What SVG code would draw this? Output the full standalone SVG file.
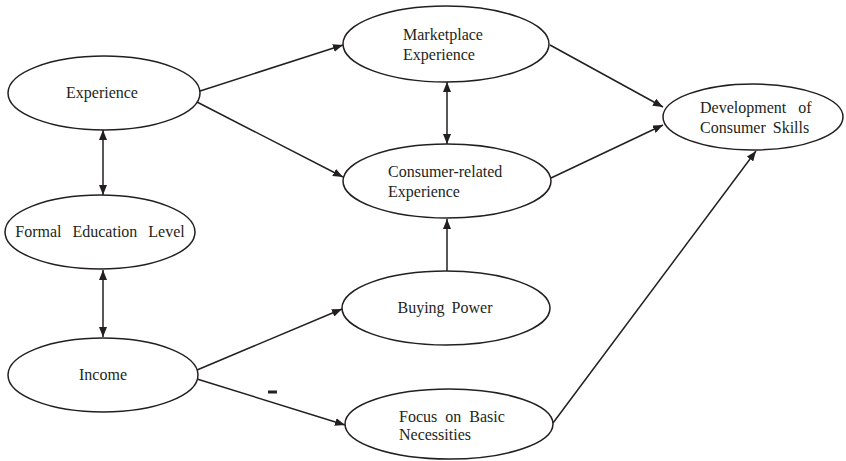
<svg xmlns="http://www.w3.org/2000/svg" width="846" height="461" viewBox="0 0 846 461">
  <style>
    .node ellipse { fill: #fff; stroke: #231f20; stroke-width: 1.5; }
    .node text { font-family: "Liberation Serif", "Times New Roman", serif; font-size: 16px; fill: #231f20; }
    .mid { text-anchor: middle; }
    #links line { stroke: #231f20; stroke-width: 1.5; fill: none; }
  </style>
  <defs>
    <marker id="head" viewBox="0 0 10 8" refX="10" refY="4" markerWidth="10" markerHeight="8" markerUnits="userSpaceOnUse" orient="auto-start-reverse">
      <path d="M0,0 L10,4 L0,8 Z" fill="#231f20"/>
    </marker>
  </defs>
  <rect width="846" height="461" fill="#fff"/>

  <g id="links">
    <line x1="197" y1="92" x2="343" y2="45" marker-end="url(#head)"/>
    <line x1="197" y1="102" x2="343" y2="177" marker-end="url(#head)"/>
    <line x1="550" y1="45" x2="663" y2="107" marker-end="url(#head)"/>
    <line x1="551" y1="178" x2="663" y2="125" marker-end="url(#head)"/>
    <line x1="553" y1="423" x2="756" y2="151" marker-end="url(#head)"/>
    <line x1="197" y1="370" x2="342" y2="309" marker-end="url(#head)"/>
    <line x1="197" y1="379" x2="345" y2="425" marker-end="url(#head)"/>
    <line x1="447" y1="271" x2="447" y2="219" marker-end="url(#head)"/>
    <line x1="447" y1="82" x2="447" y2="144" marker-start="url(#head)" marker-end="url(#head)"/>
    <line x1="103" y1="130" x2="103" y2="195" marker-start="url(#head)" marker-end="url(#head)"/>
    <line x1="103" y1="270" x2="103" y2="337" marker-start="url(#head)" marker-end="url(#head)"/>
    <line x1="268" y1="392" x2="277" y2="392" style="stroke-width:3"/>
  </g>

  <g id="experience" class="node">
    <ellipse cx="104" cy="93" rx="96" ry="37"/>
    <text class="mid" x="102" y="98">Experience</text>
  </g>
  <g id="formal-education" class="node">
    <ellipse cx="100" cy="232" rx="95" ry="37"/>
    <text class="mid" x="100" y="237" word-spacing="7">Formal Education Level</text>
  </g>
  <g id="income" class="node">
    <ellipse cx="103" cy="375" rx="95" ry="37"/>
    <text class="mid" x="103" y="380">Income</text>
  </g>
  <g id="marketplace" class="node">
    <ellipse cx="446" cy="44" rx="103" ry="38"/>
    <text x="403" y="40">Marketplace</text>
    <text x="403" y="60">Experience</text>
  </g>
  <g id="consumer-related" class="node">
    <ellipse cx="447" cy="181" rx="104" ry="37"/>
    <text x="388" y="177">Consumer-related</text>
    <text x="388" y="197">Experience</text>
  </g>
  <g id="buying-power" class="node">
    <ellipse cx="446" cy="308" rx="104" ry="37"/>
    <text class="mid" x="445" y="313" word-spacing="3">Buying Power</text>
  </g>
  <g id="basic-necessities" class="node">
    <ellipse cx="449" cy="424" rx="104" ry="35"/>
    <text x="399" y="422" word-spacing="4">Focus on Basic</text>
    <text x="399" y="440">Necessities</text>
  </g>
  <g id="consumer-skills" class="node">
    <ellipse cx="753" cy="117" rx="90" ry="33"/>
    <text x="700" y="113" word-spacing="8">Development of</text>
    <text x="700" y="133" word-spacing="3">Consumer Skills</text>
  </g>
</svg>
